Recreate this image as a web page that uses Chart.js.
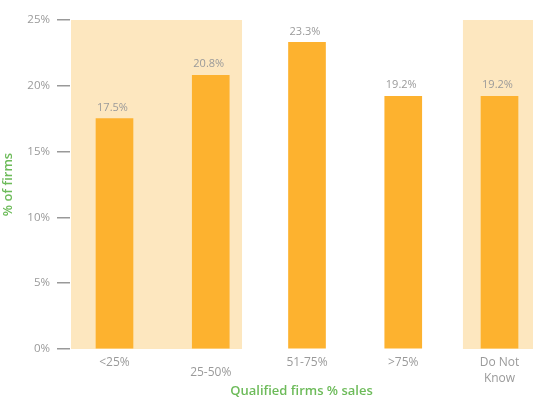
<!DOCTYPE html>
<html><head><meta charset="utf-8">
<script src="https://cdn.jsdelivr.net/npm/chart.js@4"></script>
<style>html,body{margin:0;padding:0;background:#fff;overflow:hidden}#wrap{width:533px;height:402px;position:relative}</style>
</head><body><div id="wrap"><canvas id="c"></canvas></div>
<script>
const categories = ['<25%', '25-50%', '51-75%', '>75%', ['Do Not', 'Know']];
const values = [17.5, 20.8, 23.3, 19.2, 19.2];
const valueLabels = ['17.5%', '20.8%', '23.3%', '19.2%', '19.2%'];
const yTicks = [0, 5, 10, 15, 20, 25];
const shadedSpans = [[-0.47, 1.325], [3.62, 4.36]];

const GRAY = '#9a9a9a', GREEN = '#6dbb5a', BAR = '#fdb22f', BAND = '#fde7bf';
const FONT = '"Open Sans", "DejaVu Sans", sans-serif';

const bandPlugin = {
  id: 'bands',
  beforeDatasetsDraw(chart) {
    const { ctx, chartArea, scales: { x, y } } = chart;
    ctx.save();
    ctx.fillStyle = BAND;
    const top = y.getPixelForValue(yTicks[yTicks.length - 1]);
    const bottom = y.getPixelForValue(0);
    shadedSpans.forEach(s => {
      const x0 = Math.max(chartArea.left + 1, x.getPixelForValue(s[0]));
      const x1 = Math.min(chartArea.right, x.getPixelForValue(s[1]));
      ctx.fillRect(x0, top, x1 - x0, bottom - top);
    });
    ctx.restore();
  }
};
const labelPlugin = {
  id: 'vlabels',
  afterDatasetsDraw(chart) {
    const { ctx } = chart;
    const meta = chart.getDatasetMeta(0);
    ctx.save();
    ctx.fillStyle = GRAY;
    ctx.font = '11px ' + FONT;
    ctx.textAlign = 'center';
    ctx.textBaseline = 'middle';
    meta.data.forEach((bar, i) => ctx.fillText(valueLabels[i], bar.x - 2, bar.y - 11));
    ctx.restore();
  }
};

new Chart(document.getElementById('c'), {
  type: 'bar',
  data: {
    datasets: [{
      data: values.map((v, i) => ({ x: i, y: v })),
      backgroundColor: BAR,
      borderWidth: 0,
      barThickness: 37
    }]
  },
  options: {
    responsive: true, maintainAspectRatio: false, animation: false,
    events: [],
    layout: { padding: { top: 20, right: 0, bottom: 0, left: 0 } },
    plugins: { legend: { display: false }, tooltip: { enabled: false } },
    scales: {
      x: {
        type: 'linear', min: -0.4623, max: 4.348, offset: false,
        afterBuildTicks: s => { s.ticks = categories.map((_, i) => ({ value: i })); },
        afterFit: s => { s.height = 53; },
        grid: { display: false, drawTicks: false, offset: false },
        border: { display: false },
        ticks: {
          autoSkip: false, maxRotation: 0, padding: 6,
          color: GRAY,
          font: c => (c.index === 1
            ? { family: FONT, size: 12, lineHeight: '12px' }
            : { family: FONT, size: 12, lineHeight: '16px' }),
          callback: (v, i) => (i === 1 ? ['', categories[v]] : categories[v])
        },
        title: { display: true, text: 'Qualified firms % sales', color: GREEN,
          font: { family: FONT, size: 13, weight: '600' }, padding: { top: 0, bottom: 3 } }
      },
      y: {
        min: 0, max: 25,
        afterBuildTicks: s => { s.ticks = yTicks.map(v => ({ value: v })); },
        afterFit: s => { s.width = 70; },
        grid: { display: true, drawOnChartArea: false, drawTicks: true, tickLength: 13, color: '#999', lineWidth: 1.5 },
        border: { display: false },
        ticks: { padding: 7, color: GRAY, font: { family: FONT, size: 11.5 }, callback: v => v + '%' },
        title: { display: true, text: '% of firms', color: GREEN,
          font: { family: FONT, size: 13, weight: '600' }, padding: 0 }
      }
    }
  },
  plugins: [bandPlugin, labelPlugin]
});
</script></body></html>
